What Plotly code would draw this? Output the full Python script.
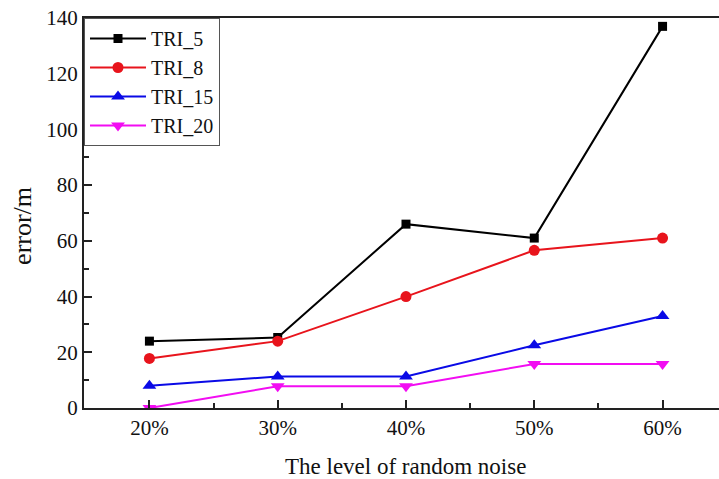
import plotly.graph_objects as go

# Noise levels (percent) and localisation error (m) for each TRI setting
noise_levels = [20, 30, 40, 50, 60]
tick_labels = ["20%", "30%", "40%", "50%", "60%"]
tri_5 = [24.0, 25.3, 66.0, 61.0, 137.0]
tri_8 = [17.8, 24.0, 40.0, 56.6, 61.0]
tri_15 = [8.0, 11.3, 11.3, 22.5, 33.0]
tri_20 = [0.0, 7.8, 7.8, 15.8, 15.8]

series = [
    ("TRI_5", tri_5, "#000000", "square", 9),
    ("TRI_8", tri_8, "#e8141c", "circle", 11),
    ("TRI_15", tri_15, "#0a0ae6", "triangle-up", 12),
    ("TRI_20", tri_20, "#f20df2", "triangle-down", 12),
]

FONT = "Liberation Serif, Times New Roman, serif"

fig = go.Figure()
for name, vals, color, symbol, size in series:
    fig.add_trace(go.Scatter(
        x=noise_levels, y=vals, name=name, mode="lines+markers",
        line=dict(color=color, width=2),
        marker=dict(symbol=symbol, size=size, color=color, line=dict(width=0)),
    ))

fig.update_layout(
    width=719, height=479,
    margin=dict(l=84, r=0, t=18, b=71),
    plot_bgcolor="white", paper_bgcolor="white",
    font=dict(family=FONT, size=21, color="#111111"),
    showlegend=True,
    legend=dict(
        x=0, y=1, xanchor="left", yanchor="top",
        bgcolor="white", bordercolor="#555555", borderwidth=1,
        font=dict(family=FONT, size=20, color="#111111"),
        itemwidth=56, tracegroupgap=0,
    ),
    xaxis=dict(
        range=[14.9, 64.4],
        tickmode="array", tickvals=noise_levels, ticktext=tick_labels,
        ticks="inside", ticklen=8, tickwidth=1.5, tickcolor="#222222",
        minor=dict(tickvals=[25, 35, 45, 55], ticks="inside", ticklen=5,
                   tickwidth=1.5, tickcolor="#222222"),
        showline=True, linecolor="#222222", linewidth=2, mirror=True,
        showgrid=False, zeroline=False,
        tickfont=dict(size=21),
    ),
    yaxis=dict(
        range=[0, 140],
        tickmode="linear", tick0=0, dtick=20,
        ticks="inside", ticklen=8, tickwidth=1.5, tickcolor="#222222",
        minor=dict(dtick=10, ticks="inside", ticklen=5,
                   tickwidth=1.5, tickcolor="#222222"),
        showline=True, linecolor="#222222", linewidth=2,
        showgrid=False, zeroline=False,
        tickfont=dict(size=21),
    ),
    annotations=[
        dict(text="The level of random noise", xref="paper", yref="paper",
             x=0.507, y=-0.151, xanchor="center", yanchor="middle",
             showarrow=False, font=dict(size=23)),
        dict(text="error/m", xref="paper", yref="paper",
             x=-0.096, y=0.467, xanchor="center", yanchor="middle",
             textangle=-90, showarrow=False, font=dict(size=26)),
    ],
)

fig.write_html("out.html")
